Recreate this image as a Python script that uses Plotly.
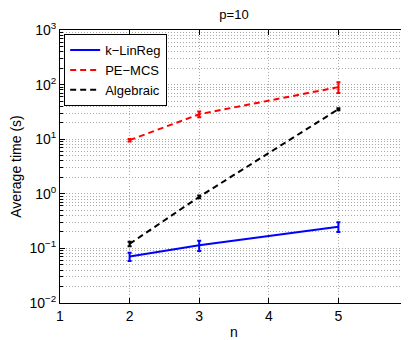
import plotly.graph_objects as go

n_vals = [2, 3, 5]
klinreg = [0.071, 0.114, 0.25]
klinreg_err = [0.012, 0.024, 0.05]
pemcs = [9.6, 28.7, 90]
pemcs_err = [0.5, 3.5, 20]
algebraic = [0.121, 0.88, 35.5]
algebraic_err = [0.012, 0.05, 1.5]

series_names = ["k\u2212LinReg", "PE\u2212MCS", "Algebraic"]
x_ticks = [1, 2, 3, 4, 5, 6]
y_exps = [-2, -1, 0, 1, 2, 3]

FONT = "Liberation Sans, Arial, Helvetica, sans-serif"

fig = go.Figure()

def add(y, err, name, color, dash):
    fig.add_trace(go.Scatter(
        x=n_vals, y=y, name=name, mode="lines",
        line=dict(color=color, width=2, dash=dash),
        error_y=dict(type="data", array=err, visible=True, color=color,
                     thickness=2, width=2),
    ))

add(klinreg, klinreg_err, series_names[0], "#0000ff", "solid")
add(pemcs, pemcs_err, series_names[1], "#ff0000", "6px,4px")
add(algebraic, algebraic_err, series_names[2], "#000000", "6px,4px")

minor_vals = [m * 10.0 ** k for k in range(-2, 3) for m in range(2, 10)]
grid_col = "#a8a8a8"
grid_dash = "1px,2px"

# the page body adds an 8px offset, so the figure is sized to compensate
fig.update_layout(
    width=409, height=332,
    margin=dict(l=52, r=9, t=22, b=37, autoexpand=False),
    paper_bgcolor="white", plot_bgcolor="white",
    font=dict(family=FONT, size=14, color="black"),
    title=dict(text="p=10", x=0.5, xanchor="center", xref="paper",
               y=1, yref="container", yanchor="top", pad=dict(t=2),
               font=dict(size=13, family=FONT), automargin=False),
    showlegend=True,
    legend=dict(x=0.012, y=0.985, xanchor="left", yanchor="top",
                bgcolor="white", bordercolor="black", borderwidth=1,
                font=dict(size=13, family=FONT), tracegroupgap=0,
                itemwidth=30),
    xaxis=dict(
        range=[1, 6], tickvals=x_ticks, ticktext=[str(v) for v in x_ticks],
        showline=True, linecolor="black", linewidth=1, mirror="ticks",
        ticks="inside", ticklen=5, tickcolor="black",
        showgrid=True, gridcolor=grid_col, griddash=grid_dash, gridwidth=1,
        zeroline=False, automargin=False, ticklabeloverflow="allow",
        title=dict(text="n", standoff=4, font=dict(size=14)),
        tickfont=dict(size=14),
    ),
    yaxis=dict(
        type="log", range=[-2, 3],
        tickvals=[10.0 ** e for e in y_exps],
        ticktext=["10<sup>%s</sup>" % (str(e) if e >= 0 else "\u2212" + str(-e)) for e in y_exps],
        showline=True, linecolor="black", linewidth=1, mirror="ticks",
        ticks="inside", ticklen=5, tickcolor="black",
        showgrid=True, gridcolor=grid_col, griddash=grid_dash, gridwidth=1,
        zeroline=False, automargin=False, ticklabeloverflow="allow",
        minor=dict(tickvals=minor_vals, ticks="inside", ticklen=3,
                   tickcolor="black", showgrid=True, gridcolor=grid_col,
                   griddash=grid_dash, gridwidth=1),
        title=dict(text="Average time (s)", standoff=4, font=dict(size=14)),
        tickfont=dict(size=14),
    ),
)

fig.write_html("out.html")
